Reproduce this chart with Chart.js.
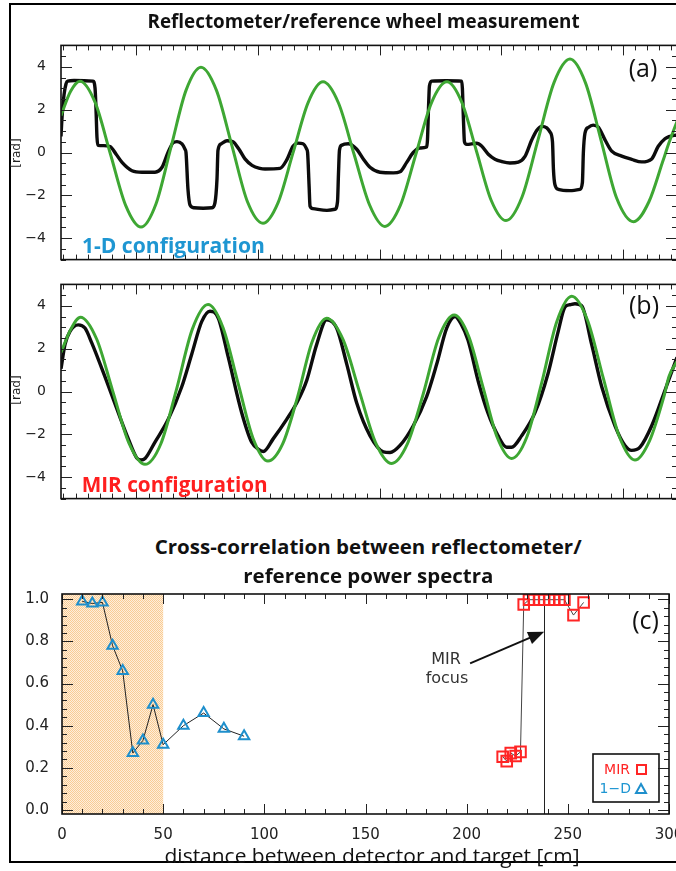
<!DOCTYPE html>
<html>
<head>
<meta charset="utf-8">
<script src="https://cdn.jsdelivr.net/npm/chart.js@4.4.1/dist/chart.umd.min.js"></script>
<style>
  html, body { margin: 0; padding: 0; background: #fff; overflow: hidden; width: 676px; height: 871px; }
  #frame { position: absolute; left: 9px; top: 3px; width: 720px; height: 860px; border: 2px solid #000; box-sizing: border-box; }
  canvas { position: absolute; left: 0; }
  .t { position: absolute; white-space: nowrap; line-height: 1; transform-origin: center center; }
</style>
</head>
<body>
<div id="frame"></div>

<canvas id="chartA" width="700" height="245" style="top:30px;width:700px;height:245px"></canvas>
<canvas id="chartB" width="700" height="245" style="top:269px;width:700px;height:245px"></canvas>
<canvas id="chartC" width="700" height="275" style="top:580px;width:700px;height:275px"></canvas>

<div class="t" data-cx="364" data-cy="16.5" data-w="432" style="font:700 20px 'Open Sans';color:#111">Reflectometer/reference wheel measurement</div>
<div class="t" data-cx="368.5" data-cy="543" data-w="427" style="font:700 20px 'Open Sans';color:#111">Cross-correlation between reflectometer/</div>
<div class="t" data-cx="368" data-cy="572" data-w="250" style="font:700 20px 'Open Sans';color:#111">reference power spectra</div>
<div class="t" data-cx="372.5" data-cy="852" data-w="415" style="font:400 20px 'Open Sans';color:#111">distance between detector and target [cm]</div>

<div class="t" data-cx="173.5" data-cy="240" data-w="183" style="font:700 22px 'Open Sans';color:#1e96d2">1-D configuration</div>
<div class="t" data-cx="175" data-cy="479" data-w="186" style="font:700 22px 'Open Sans';color:#ff1f1f">MIR configuration</div>

<div class="t" data-cx="643" data-cy="62" style="font:400 25px 'Open Sans';color:#111">(a)</div>
<div class="t" data-cx="644" data-cy="299" style="font:400 25px 'Open Sans';color:#111">(b)</div>
<div class="t" data-cx="645.5" data-cy="614" style="font:400 25px 'Open Sans';color:#111">(c)</div>

<div class="t" data-cx="16" data-cy="152" data-rot="1" style="font:400 12px 'DejaVu Sans';color:#222">[rad]</div>
<div class="t" data-cx="16" data-cy="389" data-rot="1" style="font:400 12px 'DejaVu Sans';color:#222">[rad]</div>

<div class="t" data-cx="446" data-cy="656.5" style="font:400 16px 'DejaVu Sans';color:#333">MIR</div>
<div class="t" data-cx="447" data-cy="676" style="font:400 16px 'DejaVu Sans';color:#333">focus</div>

<script>
// (a) 1-D configuration: reference (green) and reflectometer (black) phase
const greenAx = [38, 45.8, 53.6, 66.15, 78.7, 91.25, 103.8, 116.1, 128.45, 140.8, 153.1, 165.85, 178.6, 191.35, 204.1, 216.45, 228.8, 241.15, 253.5, 266.2, 278.95, 291.7, 304.4, 317.15, 329.9, 342.65, 355.4, 367.55, 379.7, 391.85, 404.0, 417.15, 430.3, 443.45, 456.6, 469.35, 482.1, 494.85, 509.0, 521.5, 533.0, 538.0, 544.6];
const greenAy = [1.72, 2.85, 3.33, 2.33, -0.08, -2.48, -3.48, -2.4, 0.25, 2.9, 3.98, 2.9, 0.31, -2.3, -3.3, -2.35, -0.02, 2.32, 3.3, 2.31, -0.07, -2.44, -3.45, -2.46, -0.07, 2.32, 3.3, 2.35, 0.06, -2.24, -3.18, -2.08, 0.59, 3.26, 4.36, 3.25, 0.58, -2.11, -3.23, -2.3, -0.4, 0.45, 1.45];

const blackAx = [38.0, 38.8, 40.5, 42.1, 43.5, 48.7, 64.3, 66.0, 66.8, 67.6, 68.4, 73.0, 78.3, 83.2, 88.2, 96.4, 104.6, 115.3, 121.1, 126.0, 130.1, 133.4, 137.5, 140.0, 140.8, 142.4, 144.1, 147.4, 155.0, 162.2, 164.6, 166.3, 167.1, 169.6, 174.5, 179.4, 184.4, 189.3, 195.1, 201.6, 205.8, 218.1, 223.9, 228.8, 232.9, 237.0, 240.1, 240.8, 242.0, 242.8, 245.2, 256.7, 263.3, 265.4, 266.2, 267.0, 268.8, 274.3, 281.2, 286.6, 292.1, 300.3, 311.3, 316.8, 322.3, 327.7, 333.2, 338.7, 339.4, 340.2, 341.0, 342.8, 354.6, 367.5, 368.1, 369.0, 369.8, 371.6, 379.8, 383.9, 389.4, 394.9, 400.4, 407.2, 414.1, 419.6, 425.1, 429.2, 433.3, 437.5, 440.1, 442.2, 443.0, 444.2, 447.0, 456.6, 464.8, 466.8, 467.6, 468.9, 471.6, 475.7, 479.9, 485.4, 490.9, 499.1, 507.3, 515.5, 523.8, 529.2, 534.7, 538.0, 544.6];
const blackAy = [0.75, 1.6, 2.7, 3.2, 3.33, 3.36, 3.33, 3.0, 2.0, 0.7, 0.33, 0.32, 0.28, -0.07, -0.46, -0.85, -0.92, -0.92, -0.69, 0.0, 0.45, 0.51, 0.4, 0.15, 0.0, -1.7, -2.45, -2.58, -2.6, -2.58, -2.35, -1.23, 0.1, 0.4, 0.55, 0.5, 0.15, -0.3, -0.6, -0.74, -0.77, -0.74, -0.32, 0.29, 0.44, 0.41, 0.15, 0.0, -1.5, -2.5, -2.62, -2.7, -2.65, -2.3, -1.0, 0.1, 0.34, 0.41, 0.15, -0.3, -0.69, -0.92, -0.95, -0.9, -0.46, 0.0, 0.21, 0.26, 0.6, 2.0, 3.1, 3.33, 3.35, 3.33, 3.0, 1.5, 0.5, 0.38, 0.43, 0.3, -0.08, -0.31, -0.42, -0.49, -0.45, -0.18, 0.58, 1.03, 1.22, 1.15, 0.96, 0.5, -0.8, -1.5, -1.72, -1.78, -1.72, -1.4, 0.0, 0.9, 1.17, 1.28, 1.18, 0.59, 0.06, -0.17, -0.32, -0.44, -0.3, 0.29, 0.64, 0.74, 0.82];

// (b) MIR configuration
const greenBx = [38, 46, 54.0, 67.3, 80.55, 93.8, 107.1, 120.05, 133.0, 145.95, 158.9, 171.2, 183.55, 195.9, 208.2, 220.3, 232.35, 244.4, 256.5, 269.9, 283.25, 296.6, 310.0, 322.85, 335.7, 348.55, 361.4, 373.2, 385.0, 396.8, 408.6, 420.95, 433.3, 445.65, 458.0, 471.0, 484.0, 497.0, 510.0, 522.0, 534.0, 538.0, 544.6];
const greenBy = [1.82, 2.9, 3.47, 2.45, 0.02, -2.4, -3.4, -2.45, 0.1, 2.9, 4.06, 2.99, 0.4, -2.18, -3.25, -2.45, -0.3, 2.3, 3.42, 2.43, 0.03, -2.37, -3.36, -2.45, -0.15, 2.5, 3.57, 2.59, 0.22, -2.15, -3.13, -2.15, 0.4, 3.25, 4.45, 3.33, 0.62, -2.08, -3.2, -2.3, -0.2, 0.7, 1.4];

const blackBx = [38.0, 41.3, 45.4, 52.2, 57.7, 63.2, 74.2, 85.1, 93.3, 100.3, 103.8, 107.1, 115.3, 126.2, 137.3, 145.5, 153.7, 160.5, 167.4, 175.6, 186.6, 194.8, 201.7, 204.4, 212.6, 223.6, 231.8, 240.1, 248.3, 256.5, 264.7, 273.0, 281.2, 292.1, 303.1, 308.6, 316.8, 327.7, 338.7, 347.0, 355.2, 362.0, 367.0, 372.7, 381.5, 389.1, 397.4, 404.5, 408.6, 416.9, 427.8, 438.5, 446.9, 452.5, 456.5, 460.7, 466.2, 474.4, 482.7, 493.6, 501.8, 507.3, 514.2, 523.8, 534.8, 544.6];
const blackBy = [1.06, 2.2, 2.81, 3.11, 2.96, 2.28, 0.68, -0.99, -2.2, -3.1, -3.2, -3.13, -2.36, -1.3, 0.22, 1.74, 3.26, 3.75, 3.42, 1.59, -0.99, -2.37, -2.75, -2.8, -2.2, -1.3, -0.54, 0.52, 2.2, 3.35, 2.96, 1.28, -0.54, -2.06, -2.82, -2.85, -2.52, -1.6, -0.24, 1.28, 2.96, 3.5, 3.15, 2.4, 0.4, -1.0, -2.06, -2.6, -2.6, -2.06, -0.99, 0.83, 2.81, 3.95, 4.05, 4.1, 4.0, 2.2, 0.22, -1.6, -2.52, -2.75, -2.6, -1.6, 0.07, 1.6];

// (c) cross-correlation vs distance [cm]
const oneDx = [10, 15, 20, 25, 30, 35, 40, 45, 50, 60, 70, 80, 90];
const oneDy = [0.99, 0.98, 0.985, 0.78, 0.66, 0.27, 0.33, 0.50, 0.31, 0.40, 0.46, 0.385, 0.35];
const mirX = [217.8, 219.8, 221.8, 224.2, 226.6, 228.2, 230.8, 233.2, 235.8, 238.3, 240.8, 243.3, 245.8, 248.3, 252.8, 257.8];
const mirY = [0.253, 0.232, 0.27, 0.256, 0.276, 0.975, 0.998, 0.998, 0.998, 0.998, 0.998, 0.998, 0.998, 0.998, 0.925, 0.985];

const shadeCm = [0, 50];
const focusCm = 238.3;
const arrowFrom = [201.7, 0.696];
const arrowTo = [238.3, 0.846];

const yTicksAB = [-4, -2, 0, 2, 4];
const yLabelsAB = ['−4', '−2', '0', '2', '4'];
const xTicksC = [0, 50, 100, 150, 200, 250, 300];
const yTicksC = [0, 0.2, 0.4, 0.6, 0.8, 1.0];
const yLabelsC = ['0.0', '0.2', '0.4', '0.6', '0.8', '1.0'];

const xy = (xs, ys) => xs.map((v, i) => ({ x: v, y: ys[i] }));

// frame + inward tick marks on all four sides (IDL style)
const frameTicks = {
  id: 'frameTicks',
  afterDatasetsDraw(chart, args, o) {
    const { ctx, chartArea: a, scales: { x, y } } = chart;
    ctx.save();
    ctx.strokeStyle = '#222';
    ctx.lineWidth = 1;
    const mark = (scale, step, len) => {
      const i0 = Math.ceil(scale.min / step - 1e-6), i1 = Math.floor(scale.max / step + 1e-6);
      ctx.beginPath();
      for (let i = i0; i <= i1; i++) {
        const p = Math.round(scale.getPixelForValue(i * step)) + 0.5;
        if (scale.isHorizontal()) {
          ctx.moveTo(p, a.bottom); ctx.lineTo(p, a.bottom - len);
          ctx.moveTo(p, a.top); ctx.lineTo(p, a.top + len);
        } else {
          ctx.moveTo(a.left, p); ctx.lineTo(a.left + len, p);
          ctx.moveTo(a.right, p); ctx.lineTo(a.right - len, p);
        }
      }
      ctx.stroke();
    };
    mark(x, o.xMinor, 5); mark(x, o.xMajor, 10);
    mark(y, o.yMinor, 5); mark(y, o.yMajor, 11);
    ctx.lineWidth = 1.6;
    ctx.strokeStyle = '#111';
    ctx.strokeRect(a.left, a.top, a.right - a.left, a.bottom - a.top);
    ctx.restore();
  }
};

function waveChart(id, gx, gy, bx, by) {
  return new Chart(document.getElementById(id), {
    type: 'line',
    data: {
      datasets: [
        { data: xy(gx, gy), borderColor: '#3ea733', borderWidth: 3, pointRadius: 0, cubicInterpolationMode: 'monotone' },
        { data: xy(bx, by), borderColor: '#0c0c0c', borderWidth: 3.4, pointRadius: 0, cubicInterpolationMode: 'monotone' }
      ]
    },
    options: {
      responsive: false, animation: false, events: [],
      layout: { padding: { top: 11, right: 23, bottom: 0, left: 0 } },
      plugins: {
        legend: { display: false }, tooltip: { enabled: false },
        frameTicks: { xMajor: 100, xMinor: 10, yMajor: 2, yMinor: 0.5 }
      },
      scales: {
        x: {
          type: 'linear', min: 38, max: 544.6,
          grid: { display: false }, border: { display: false },
          ticks: { display: false },
          afterFit: s => { s.height = 14; }
        },
        y: {
          min: -5, max: 5,
          grid: { display: false }, border: { display: false },
          afterBuildTicks: s => { s.ticks = yTicksAB.map(v => ({ value: v })); },
          ticks: { padding: 7, color: '#222', font: { family: 'DejaVu Sans', size: 14 }, callback: (v, i) => yLabelsAB[i] },
          afterFit: s => { s.width = 61; }
        }
      }
    },
    plugins: [frameTicks]
  });
}

waveChart('chartA', greenAx, greenAy, blackAx, blackAy);
waveChart('chartB', greenBx, greenBy, blackBx, blackBy);

// dotted peach shading pattern
function shadePattern(ctx) {
  const c = document.createElement('canvas');
  c.width = 2; c.height = 2;
  const g = c.getContext('2d');
  g.fillStyle = '#feeedb'; g.fillRect(0, 0, 2, 2);
  g.fillStyle = '#f9cc94'; g.fillRect(0, 0, 1, 1); g.fillRect(1, 1, 1, 1);
  return ctx.createPattern(c, 'repeat');
}

const annotC = {
  id: 'annotC',
  beforeDatasetsDraw(chart) {
    const { ctx, chartArea: a, scales: { x } } = chart;
    ctx.save();
    ctx.fillStyle = shadePattern(ctx);
    const x0 = x.getPixelForValue(shadeCm[0]), x1 = x.getPixelForValue(shadeCm[1]);
    ctx.fillRect(x0, a.top, x1 - x0, a.bottom - a.top);
    // MIR focus line
    const fx = Math.round(x.getPixelForValue(focusCm)) + 0.5;
    ctx.strokeStyle = '#222'; ctx.lineWidth = 1;
    ctx.beginPath(); ctx.moveTo(fx, a.top); ctx.lineTo(fx, a.bottom); ctx.stroke();
    ctx.restore();
  },
  afterDatasetsDraw(chart) {
    const { ctx, chartArea: a, scales: { x, y } } = chart;
    ctx.save();
    // arrow
    const px0 = x.getPixelForValue(arrowFrom[0]), py0 = y.getPixelForValue(arrowFrom[1]);
    const px1 = x.getPixelForValue(arrowTo[0]), py1 = y.getPixelForValue(arrowTo[1]);
    const ang = Math.atan2(py1 - py0, px1 - px0), c = Math.cos(ang), s = Math.sin(ang);
    ctx.strokeStyle = '#111'; ctx.fillStyle = '#111'; ctx.lineWidth = 2;
    ctx.beginPath(); ctx.moveTo(px0, py0); ctx.lineTo(px1 - 12 * c, py1 - 12 * s); ctx.stroke();
    ctx.beginPath();
    ctx.moveTo(px1, py1);
    ctx.lineTo(px1 - 16 * c + 6.5 * s, py1 - 16 * s - 6.5 * c);
    ctx.lineTo(px1 - 16 * c - 6.5 * s, py1 - 16 * s + 6.5 * c);
    ctx.closePath(); ctx.fill();

    // legend box
    const bx = a.right - 76, by = a.bottom - 60, bw = 66, bh = 48;
    ctx.fillStyle = '#fff';
    ctx.fillRect(bx, by, bw, bh);
    ctx.strokeStyle = '#111'; ctx.lineWidth = 1.6;
    ctx.strokeRect(bx, by, bw, bh);
    ctx.font = '14px "DejaVu Sans"';
    ctx.textAlign = 'right'; ctx.textBaseline = 'middle';
    ctx.fillStyle = '#ff2525';
    ctx.fillText('MIR', bx + 37, by + 16);
    ctx.fillStyle = '#1e96d2';
    ctx.fillText('1−D', bx + 38, by + 35);
    ctx.lineWidth = 2;
    ctx.strokeStyle = '#ff2525';
    ctx.strokeRect(bx + 44, by + 11, 9, 9);
    ctx.strokeStyle = '#1e8fcc';
    ctx.beginPath();
    ctx.moveTo(bx + 48, by + 30); ctx.lineTo(bx + 53, by + 39); ctx.lineTo(bx + 43, by + 39); ctx.closePath();
    ctx.stroke();
    ctx.restore();
  }
};

new Chart(document.getElementById('chartC'), {
  type: 'line',
  data: {
    datasets: [
      {
        data: xy(oneDx, oneDy), borderColor: '#222', borderWidth: 1,
        pointStyle: 'triangle', pointRadius: 6, pointBorderWidth: 2,
        pointBorderColor: '#1e8fcc', pointBackgroundColor: 'rgba(0,0,0,0)'
      },
      {
        data: xy(mirX, mirY), borderColor: '#444', borderWidth: 1,
        pointStyle: 'rect', pointRadius: 7.5, pointBorderWidth: 2,
        pointBorderColor: '#ff2525', pointBackgroundColor: 'rgba(0,0,0,0)'
      }
    ]
  },
  options: {
    responsive: false, animation: false, events: [],
    layout: { padding: { top: 14, right: 31, bottom: 0, left: 0 } },
    plugins: {
      legend: { display: false }, tooltip: { enabled: false },
      frameTicks: { xMajor: 50, xMinor: 10, yMajor: 0.2, yMinor: 0.04 }
    },
    scales: {
      x: {
        type: 'linear', min: 0, max: 300,
        grid: { display: false }, border: { display: false },
        afterBuildTicks: s => { s.ticks = xTicksC.map(v => ({ value: v })); },
        ticks: { padding: 4, maxRotation: 0, color: '#222', font: { family: 'DejaVu Sans', size: 15 } },
        afterFit: s => { s.height = 41; }
      },
      y: {
        min: -0.019, max: 1.025,
        grid: { display: false }, border: { display: false },
        afterBuildTicks: s => { s.ticks = yTicksC.map(v => ({ value: v })); },
        ticks: { padding: 5, color: '#222', font: { family: 'DejaVu Sans', size: 15 }, callback: (v, i) => yLabelsC[i] },
        afterFit: s => { s.width = 62; }
      }
    }
  },
  plugins: [annotC, frameTicks]
});

// place the text labels
document.querySelectorAll('.t').forEach(el => {
  const r = el.getBoundingClientRect();
  const fs = parseFloat(getComputedStyle(el).fontSize);
  const cx = +el.dataset.cx, cy = +el.dataset.cy;
  el.style.left = (cx - r.width / 2) + 'px';
  el.style.top = (cy - fs / 2) + 'px';
  let tf = '';
  if (el.dataset.w) tf += 'scaleX(' + (+el.dataset.w / r.width) + ')';
  if (el.dataset.rot) tf += ' rotate(-90deg)';
  el.style.transform = tf;
});
</script>
</body>
</html>
